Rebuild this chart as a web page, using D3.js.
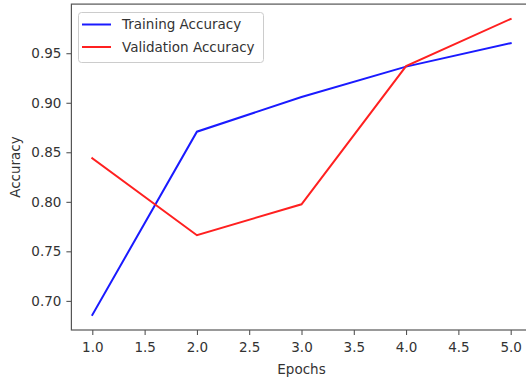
<!DOCTYPE html>
<html>
<head>
<meta charset="utf-8">
<script src="https://cdn.jsdelivr.net/npm/d3@7"></script>
<style>
html,body{margin:0;padding:0;background:#fff;}
svg{display:block;}
text{font-family:"DejaVu Sans",sans-serif;fill:#333;}
</style>
</head>
<body>
<svg id="chart" width="526" height="380"></svg>
<script>
const epochs = [1, 2, 3, 4, 5];
const trainingAccuracy = [0.6858, 0.8708, 0.9058, 0.9365, 0.9602];
const validationAccuracy = [0.8440, 0.7663, 0.7975, 0.9370, 0.9846];
const xTicks = [1.0, 1.5, 2.0, 2.5, 3.0, 3.5, 4.0, 4.5, 5.0];
const yTicks = [0.70, 0.75, 0.80, 0.85, 0.90, 0.95];
const seriesNames = ["Training Accuracy", "Validation Accuracy"];
const seriesColors = ["#1a1aff", "#ff2020"];

const svg = d3.select("#chart");
const plotLeft = 71.4, plotRight = 531.6, plotTop = 4.1, plotBottom = 330;
const fs = "13.5px";

const x = d3.scaleLinear().domain([0.8, 5.2]).range([plotLeft, plotRight]);
const y = d3.scaleLinear().domain([0.67059, 0.99961]).range([plotBottom, plotTop]);

// Axes
const xAxis = d3.axisBottom(x).tickValues(xTicks).tickFormat(d3.format(".1f")).tickSize(5).tickPadding(7);
const yAxis = d3.axisLeft(y).tickValues(yTicks).tickFormat(d3.format(".2f")).tickSize(5).tickPadding(5);

const gx = svg.append("g").attr("transform", `translate(0,${plotBottom})`).call(xAxis);
const gy = svg.append("g").attr("transform", `translate(${plotLeft},0)`).call(yAxis);
[gx, gy].forEach(g => {
  g.select(".domain").remove();
  g.selectAll(".tick line").attr("stroke", "#444").attr("stroke-width", 1);
  g.selectAll(".tick text").attr("font-size", fs).attr("fill", "#333")
    .attr("font-family", "DejaVu Sans, sans-serif");
});

// Spines
svg.append("rect").attr("x", plotLeft).attr("y", plotTop).attr("width", plotRight - plotLeft).attr("height", plotBottom - plotTop)
  .attr("fill", "none").attr("stroke", "#555").attr("stroke-width", 1.2);

// Lines
const line = d3.line().x((d, i) => x(epochs[i])).y(d => y(d));
[trainingAccuracy, validationAccuracy].forEach((s, k) => {
  svg.append("path").datum(s).attr("d", line).attr("fill", "none")
    .attr("stroke", seriesColors[k]).attr("stroke-width", 2).attr("stroke-linecap", "square");
});

// Labels
svg.append("text").attr("x", (plotLeft + plotRight) / 2).attr("y", 374).attr("text-anchor", "middle")
  .attr("font-size", fs).text("Epochs");
svg.append("text").attr("transform", `translate(20,${(plotTop + plotBottom) / 2}) rotate(-90)`)
  .attr("text-anchor", "middle").attr("font-size", fs).text("Accuracy");

// Legend
const lg = svg.append("g");
lg.append("rect").attr("x", 78.5).attr("y", 12.5).attr("width", 185).attr("height", 50).attr("rx", 3)
  .attr("fill", "#fff").attr("fill-opacity", 0.8).attr("stroke", "#ccc");
seriesNames.forEach((n, k) => {
  const yy = 24.5 + k * 22.5;
  lg.append("line").attr("x1", 82).attr("x2", 111).attr("y1", yy).attr("y2", yy)
    .attr("stroke", seriesColors[k]).attr("stroke-width", 2);
  lg.append("text").attr("x", 122).attr("y", yy).attr("dy", "0.35em").attr("font-size", fs).text(n);
});
</script>
</body>
</html>
